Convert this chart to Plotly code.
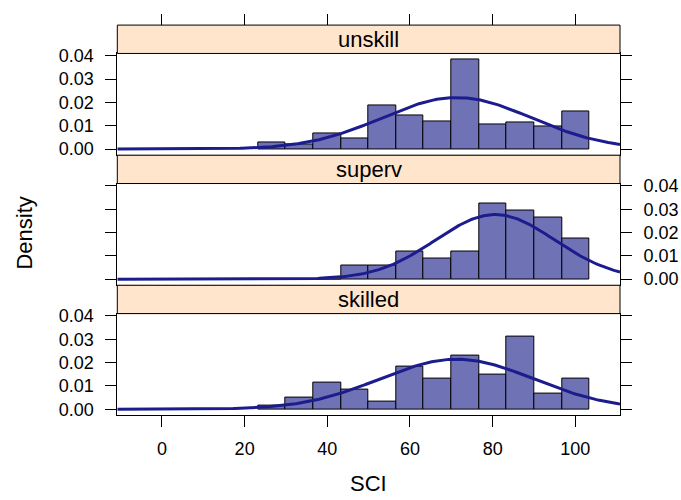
import numpy as np
import plotly.graph_objects as go

# ---------------- data ----------------
panels = ["unskill", "superv", "skilled"]
breaks = [23.25, 29.93, 36.61, 43.29, 49.97, 56.65, 63.33,
          70.01, 76.69, 83.37, 90.05, 96.73, 103.41]
dens_unskill = [0.0030, 0.0022, 0.0065, 0.0045, 0.0187, 0.0144,
                0.0119, 0.0385, 0.0105, 0.0116, 0.0095, 0.0160]
dens_superv = [0.0, 0.0, 0.0, 0.00587, 0.00587, 0.01174,
               0.0088, 0.01174, 0.0323, 0.0294, 0.0264, 0.0176]
dens_skilled = [0.00165, 0.00494, 0.01152, 0.00823, 0.00329, 0.0181,
                0.01316, 0.0230, 0.0148, 0.03126, 0.00658, 0.01316]
# fitted normal density parameters (panel.mathdensity dnorm)
norm_mean = {"unskill": 71.3, "superv": 80.6, "skilled": 71.3}
norm_sd = {"unskill": 18.05, "superv": 14.4, "skilled": 18.6}
x_ticks = [0, 20, 40, 60, 80, 100]
y_ticks = [0.00, 0.01, 0.02, 0.03, 0.04]
y_tick_labels = ["0.00", "0.01", "0.02", "0.03", "0.04"]

dens = {"unskill": dens_unskill, "superv": dens_superv, "skilled": dens_skilled}

# ---------------- layout geometry ----------------
W, H = 681, 500
XL, XR = 117.3, 620.0
x_range = [-10.8, 110.8]
y_range = [-0.0026, 0.0410]
panel_px = {"unskill": (47.5, 151.5), "superv": (180.5, 284.5), "skilled": (313.5, 417.5)}
strip_h = 29.0

def px(v):
    return v / W

def py(v):
    return 1 - v / H

FONT = "Liberation Sans, Arial, Helvetica, sans-serif"
BAR_COL = "#7072B6"
LINE_COL = "#1C1C8E"
STRIP_COL = "#FFE5CC"

fig = go.Figure()
centers = [(breaks[i] + breaks[i + 1]) / 2 for i in range(len(breaks) - 1)]
widths = [breaks[i + 1] - breaks[i] for i in range(len(breaks) - 1)]
xs = np.linspace(x_range[0], x_range[1], 300)

shapes = []
annotations = []
for i, p in enumerate(panels):
    k = "" if i == 0 else str(i + 1)
    xa, ya = "x" + k, "y" + k
    fig.add_trace(go.Bar(x=centers, y=dens[p], width=widths, xaxis=xa, yaxis=ya,
                         marker=dict(color=BAR_COL, line=dict(color="black", width=1)),
                         showlegend=False, hoverinfo="skip"))
    m, s = norm_mean[p], norm_sd[p]
    ys = np.exp(-0.5 * ((xs - m) / s) ** 2) / (s * np.sqrt(2 * np.pi))
    fig.add_trace(go.Scatter(x=xs, y=ys, mode="lines", xaxis=xa, yaxis=ya,
                             line=dict(color=LINE_COL, width=3), showlegend=False,
                             hoverinfo="skip"))
    top, bot = panel_px[p]
    is_bottom = (i == 2)
    fig.layout["xaxis" + k] = dict(
        domain=[px(XL), px(XR)], range=x_range, anchor=ya,
        showline=True, linecolor="black", linewidth=1, mirror=True,
        showgrid=False, zeroline=False,
        ticks="outside" if is_bottom else "", ticklen=11, tickwidth=1, tickcolor="black",
        tickvals=x_ticks, showticklabels=is_bottom,
        tickfont=dict(family=FONT, size=18, color="black"),
        ticklabelstandoff=6,
        matches=None if i == 0 else "x",
    )
    fig.layout["yaxis" + k] = dict(
        domain=[py(bot), py(top)], range=y_range, anchor=xa,
        side="right" if p == "superv" else "left",
        showline=True, linecolor="black", linewidth=1, mirror="ticks",
        showgrid=False, zeroline=False,
        ticks="outside", ticklen=11, tickwidth=1, tickcolor="black",
        tickvals=y_ticks, ticktext=y_tick_labels,
        tickfont=dict(family=FONT, size=18, color="black"),
        ticklabelstandoff=8,
    )
    shapes.append(dict(type="rect", xref="paper", yref="paper",
                       x0=px(XL), x1=px(XR), y0=py(top), y1=py(top - strip_h),
                       fillcolor=STRIP_COL, line=dict(color="black", width=1), layer="above"))
    annotations.append(dict(text=p, xref="paper", yref="paper",
                            x=px((XL + XR) / 2), y=py(top - strip_h / 2),
                            showarrow=False, xanchor="center", yanchor="middle",
                            font=dict(family=FONT, size=22, color="black")))

# top tick marks above the top strip
top_strip_top = panel_px["unskill"][0] - strip_h
fig.layout["xaxis4"] = dict(domain=[px(XL), px(XR)], range=x_range, overlaying="x",
                            anchor="free", position=py(top_strip_top), side="top",
                            showline=False, showgrid=False, zeroline=False,
                            ticks="outside", ticklen=11, tickwidth=1, tickcolor="black",
                            tickvals=x_ticks, showticklabels=False)
fig.add_trace(go.Scatter(x=[None], y=[None], xaxis="x4", yaxis="y", showlegend=False))

annotations.append(dict(text="SCI", xref="paper", yref="paper",
                        x=px((XL + XR) / 2), y=py(487), showarrow=False,
                        xanchor="center", yanchor="middle",
                        font=dict(family=FONT, size=22, color="black")))
annotations.append(dict(text="Density", xref="paper", yref="paper",
                        x=px(25), y=py(231.7), showarrow=False, textangle=-90,
                        xanchor="center", yanchor="middle",
                        font=dict(family=FONT, size=22, color="black")))

fig.update_layout(width=W, height=H, margin=dict(l=0, r=0, t=0, b=0),
                  paper_bgcolor="white", plot_bgcolor="white",
                  bargap=0, shapes=shapes, annotations=annotations,
                  font=dict(family=FONT, color="black"))
fig.write_html("out.html", config={"displayModeBar": False},
               post_script="document.body.style.margin='0';document.body.style.overflow='hidden';")
